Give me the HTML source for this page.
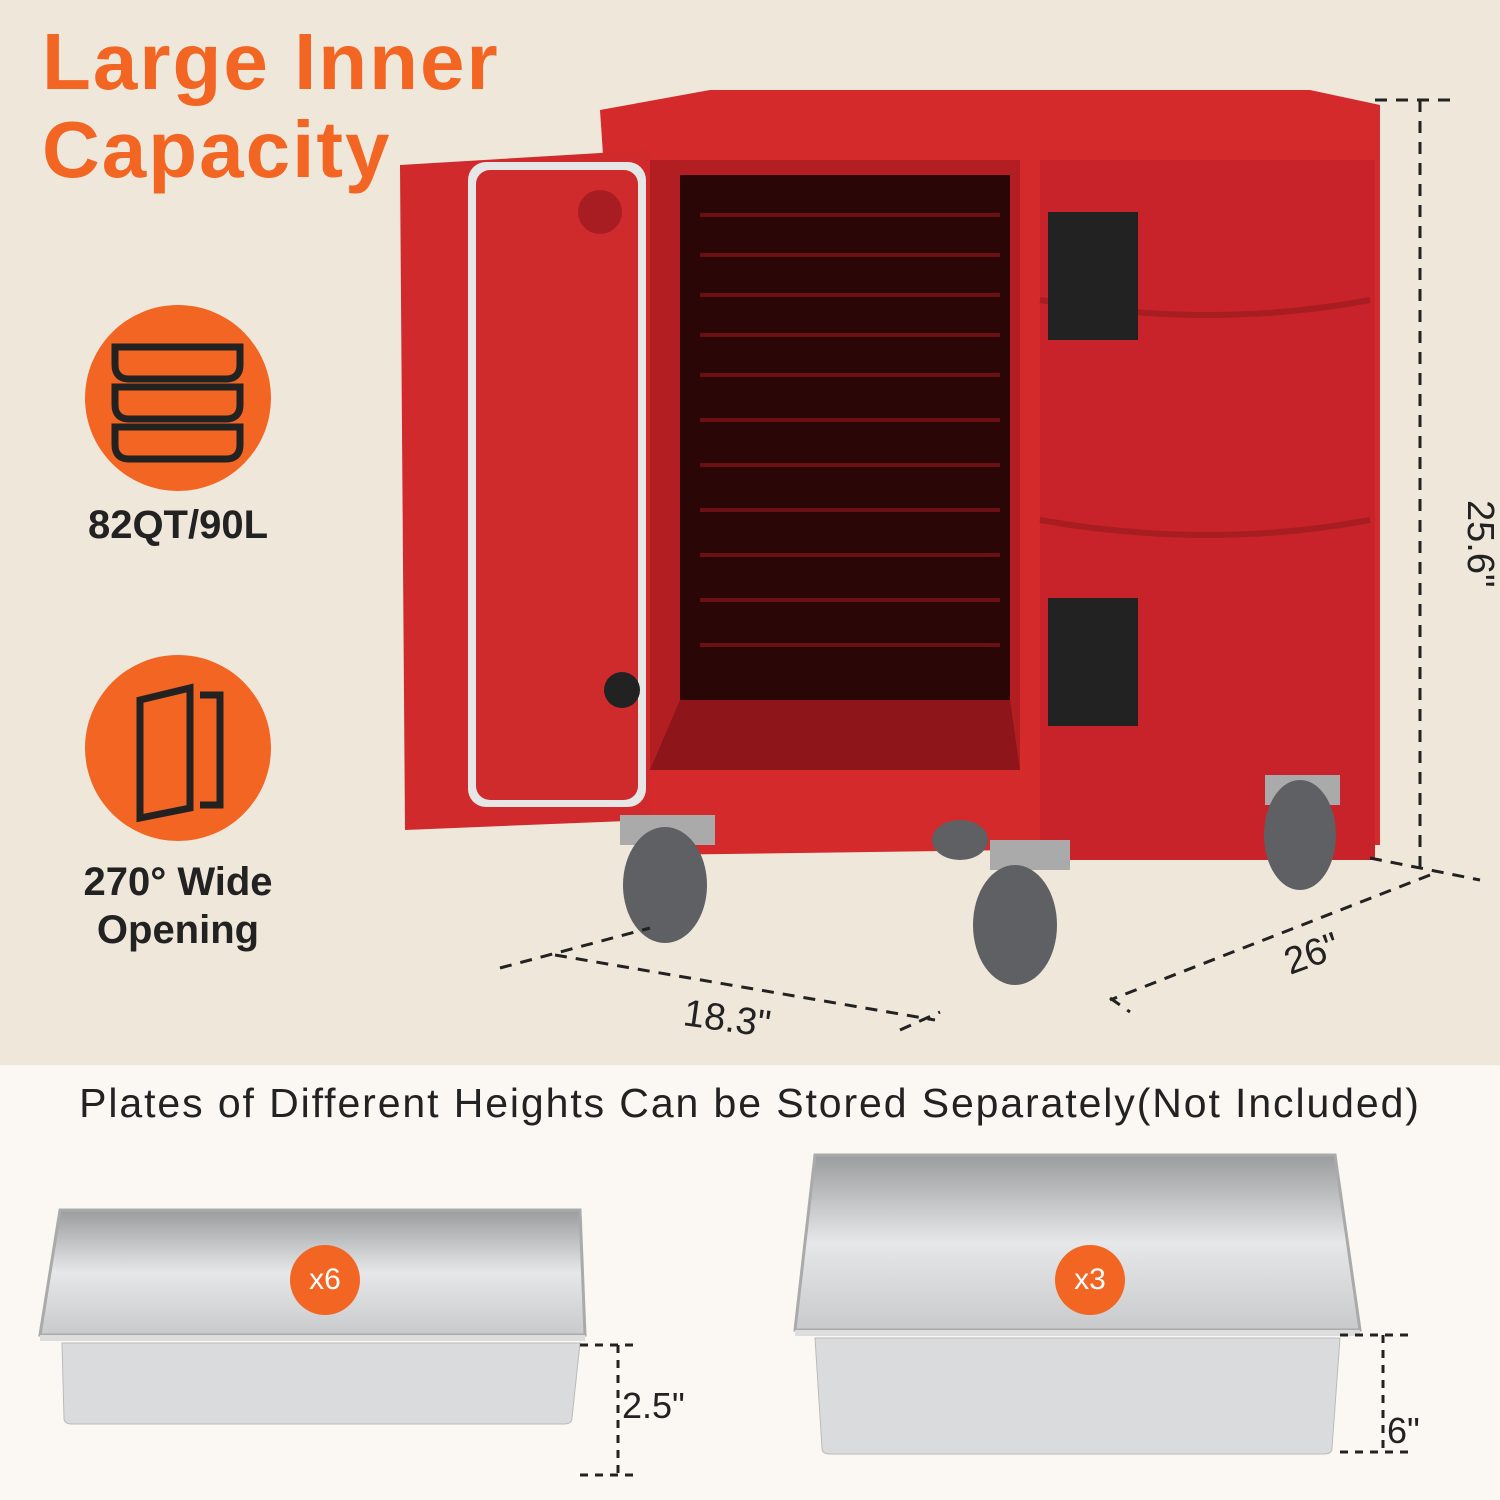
<!DOCTYPE html>
<html><head><meta charset="utf-8"><style>
html,body{margin:0;padding:0}
body{width:1500px;height:1500px;position:relative;overflow:hidden;font-family:"Liberation Sans",sans-serif;background:#efe7da}
.abs{position:absolute}
.title{left:42px;top:18px;color:#f26522;font-weight:bold;font-size:80px;line-height:88px;letter-spacing:2px}
.circ{width:186px;height:186px;border-radius:50%;background:#f26522}
.lbl{font-weight:bold;font-size:40px;color:#222;text-align:center;width:300px}
.bottom{left:0;top:1065px;width:1500px;height:435px;background:#fbf8f4}
.sub{left:0;top:1080px;width:1500px;text-align:center;font-size:41px;letter-spacing:1.9px;color:#222}
.badge{width:70px;height:70px;border-radius:50%;background:#f26522;color:#fff;font-size:30px;text-align:center;line-height:70px}
.dim{font-size:36px;color:#222}
</style></head><body>
<div class="abs title">Large Inner<br>Capacity</div>
<div class="abs circ" style="left:85px;top:305px"></div>
<svg class="abs" style="left:85px;top:305px" width="186" height="186" viewBox="0 0 186 186" fill="none" stroke="#222" stroke-width="7">
<path d="M30 42h125v18c0 10-6 14-14 14H44c-8 0-14-4-14-14z"/>
<path d="M30 82h125v18c0 10-6 14-14 14H44c-8 0-14-4-14-14z"/>
<path d="M30 122h125v18c0 10-6 14-14 14H44c-8 0-14-4-14-14z"/>
</svg>
<div class="abs lbl" style="left:28px;top:503px">82QT/90L</div>
<div class="abs circ" style="left:85px;top:655px"></div>
<svg class="abs" style="left:85px;top:655px" width="186" height="186" viewBox="0 0 186 186" fill="none" stroke="#222" stroke-width="7">
<path d="M55 45l50-12v120l-50 10z"/><path d="M115 40h20v110h-20"/>
</svg>
<div class="abs lbl" style="left:28px;top:858px;line-height:48px">270° Wide<br>Opening</div>

<svg class="abs" style="left:0;top:0" width="1500" height="1065">
<path d="M600 110l110-20h600l70 15v740l-730 10z" fill="#d42a2c"/>
<path d="M1040 160h335v700h-335z" fill="#c8232a"/>
<path d="M1040 300q170 30 330 0M1040 520q170 30 330 0" stroke="#a81d22" stroke-width="6" fill="none"/>
<path d="M650 160h370v610h-370z" fill="#b31e22"/>
<path d="M680 175h330v590h-330z" fill="#2a0607"/>
<g stroke="#6a0f12" stroke-width="4">
<path d="M700 215h300M700 255h300M700 295h300M700 335h300M700 375h300M700 420h300M700 465h300M700 510h300M700 555h300M700 600h300M700 645h300"/>
</g>
<path d="M680 700l-30 70h370l-10-70z" fill="#8e1519"/>
<path d="M400 165l250-15v670l-245 10z" fill="#d02a2c"/>
<rect x="468" y="162" width="178" height="645" rx="18" fill="#e6e6e6"/>
<rect x="476" y="170" width="162" height="630" rx="14" fill="#cf2b2d"/>
<circle cx="600" cy="212" r="22" fill="#a81d22"/>
<circle cx="622" cy="690" r="18" fill="#222"/>
<rect x="1048" y="212" width="90" height="128" fill="#222"/>
<rect x="1048" y="598" width="90" height="128" fill="#222"/>
<g fill="#5e6064">
<rect x="620" y="815" width="95" height="30" fill="#aaa"/><ellipse cx="665" cy="885" rx="42" ry="58"/>
<rect x="990" y="840" width="80" height="30" fill="#aaa"/><ellipse cx="1015" cy="925" rx="42" ry="60"/>
<ellipse cx="960" cy="840" rx="28" ry="20"/>
<rect x="1265" y="775" width="75" height="30" fill="#aaa"/><ellipse cx="1300" cy="835" rx="36" ry="55"/>
</g>
<g stroke="#222" stroke-width="3" stroke-dasharray="12 9" fill="none">
<path d="M1375 100h80M1420 100v770M1370 858l110 22"/>
<path d="M1430 875l-320 125M1110 998l20 14"/>
<path d="M500 968l150-40M555 955l380 65M900 1030l40-18"/>
</g>
<text x="1468" y="500" font-size="38" fill="#222" transform="rotate(90 1468 500)" font-family="Liberation Sans">25.6"</text>
<text x="1290" y="975" font-size="38" fill="#222" transform="rotate(-20 1290 975)" font-family="Liberation Sans">26"</text>
<text x="682" y="1025" font-size="38" fill="#222" transform="rotate(8 682 1025)" font-family="Liberation Sans">18.3"</text>
</svg>

<div class="abs bottom"></div>
<div class="abs sub">Plates of Different Heights Can be Stored Separately(Not Included)</div>
<svg class="abs" style="left:0;top:1140px" width="1500" height="360">
<defs><linearGradient id="g" x1="0" y1="0" x2="0" y2="1"><stop offset="0" stop-color="#9a9c9e"/><stop offset=".5" stop-color="#e6e7e8"/><stop offset="1" stop-color="#c9cacb"/></linearGradient></defs>
<path d="M60 70h520l5 125H40z" fill="url(#g)" stroke="#aaa" stroke-width="3"/>
<path d="M40 195h545v6H40z" fill="#ddd"/>
<path d="M62 203h518l-8 75q0 6-8 6H72q-8 0-8-6z" fill="#dadbdc" stroke="#bbb"/>
<path d="M815 15h520l25 175H795z" fill="url(#g)" stroke="#aaa" stroke-width="3"/>
<path d="M795 190h565v6H795z" fill="#ddd"/>
<path d="M815 198h525l-8 110q0 6-8 6H830q-8 0-8-6z" fill="#dadbdc" stroke="#bbb"/>
<g stroke="#222" stroke-width="3" stroke-dasharray="8 7" fill="none">
<path d="M580 205h60M618 205v130M580 335h60"/>
<path d="M1340 195h70M1383 195v120M1340 312h70"/>
</g>
</svg>
<div class="abs badge" style="left:290px;top:1245px">x6</div>
<div class="abs badge" style="left:1055px;top:1245px">x3</div>
<div class="abs dim" style="left:622px;top:1385px">2.5"</div>
<div class="abs dim" style="left:1387px;top:1410px">6"</div>
</body></html>
